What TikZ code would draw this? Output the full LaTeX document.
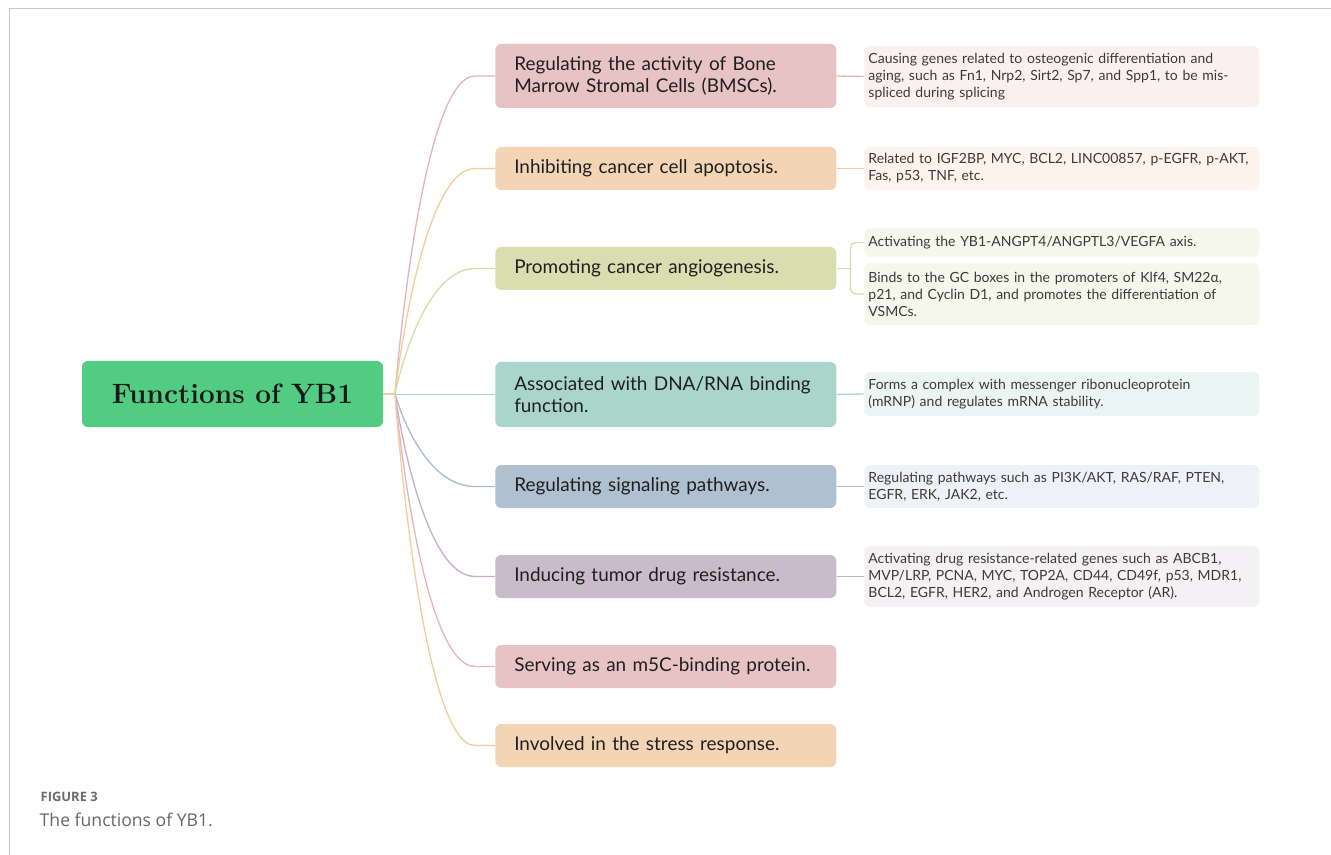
\documentclass[tikz,border=0pt]{standalone}
\usepackage{fontspec}
\newfontfamily\boxfont{Lato}
\newfontfamily\capfont{Open Sans}
\usetikzlibrary{calc,positioning,backgrounds}

\definecolor{rootgreen}{HTML}{52CC82}
\definecolor{frameGray}{HTML}{C8C8C8}
\definecolor{fillA}{HTML}{E8C3C3}
\definecolor{fillB}{HTML}{F3D5B5}
\definecolor{fillC}{HTML}{DADDB0}
\definecolor{fillD}{HTML}{A9D5CA}
\definecolor{fillE}{HTML}{AFC0D1}
\definecolor{fillF}{HTML}{C9BBCB}
\definecolor{lineA}{HTML}{E5B5B5}
\definecolor{lineB}{HTML}{F5CB9E}
\definecolor{lineC}{HTML}{D5DDA5}
\definecolor{lineD}{HTML}{A9D8CE}
\definecolor{lineE}{HTML}{A9BDD2}
\definecolor{lineF}{HTML}{C4B0C9}
\definecolor{detA}{HTML}{FBF0EF}
\definecolor{detB}{HTML}{FDF3EC}
\definecolor{detC}{HTML}{F6F7EC}
\definecolor{detD}{HTML}{EAF4F2}
\definecolor{detE}{HTML}{EEF1F6}
\definecolor{detF}{HTML}{F3F1F4}
\definecolor{detText}{HTML}{3E3A38}

\tikzset{
  rootbox/.style={rounded corners=4.5pt, fill=rootgreen, minimum width=225.75pt,
    minimum height=49.5pt, font=\fontsize{21}{25}\selectfont\bfseries, text=black!90},
  branch/.style={rounded corners=4.5pt, anchor=west, minimum width=255.75pt,
    minimum height=32.25pt, text width=227.25pt, inner xsep=14.25pt, align=left,
    font=\boxfont\fontsize{14.2}{16.5}\selectfont, text=black!88},
  detail/.style={rounded corners=4.5pt, anchor=west, minimum width=296.25pt,
    text width=290pt, inner xsep=3.1pt, align=left, text=detText,
    font=\boxfont\fontsize{10.5}{12.75}\selectfont},
  link/.style={line width=1pt}
}

\begin{document}
\begin{tikzpicture}[x=0.75pt,y=-0.75pt]
\useasboundingbox (0,0) rectangle (1331,855);
% frame
\draw[frameGray, line width=0.75pt] (1331,9) -- (9,9) -- (9,855);

\node[rootbox] (root) at (232.5,394) {Functions of YB1};
\coordinate (hub) at (395,394);

% first level
\node[branch, fill=fillA, minimum height=48pt] (b1) at (495,76) {Regulating the activity of Bone\\Marrow Stromal Cells (BMSCs).};
\node[branch, fill=fillB] (b2) at (495,168.5) {Inhibiting cancer cell apoptosis.};
\node[branch, fill=fillC] (b3) at (495,268.5) {Promoting cancer angiogenesis.};
\node[branch, fill=fillD, minimum height=48.75pt] (b4) at (495,394.5) {Associated with DNA/RNA binding\\function.};
\node[branch, fill=fillE] (b5) at (495,486.5) {Regulating signaling pathways.};
\node[branch, fill=fillF] (b6) at (495,576.5) {Inducing tumor drug resistance.};
\node[branch, fill=fillA] (b7) at (495,666.5) {Serving as an m5C-binding protein.};
\node[branch, fill=fillB] (b8) at (495,745.5) {Involved in the stress response.};

% second level
\node[detail, fill=detA, minimum height=45.75pt] (d1) at (864,76.5) {Causing genes related to osteogenic differentiation and\\aging, such as Fn1, Nrp2, Sirt2, Sp7, and Spp1, to be mis-\\spliced during splicing};
\node[detail, fill=detB, minimum height=32.25pt] (d2) at (864,168.5) {Related to IGF2BP, MYC, BCL2, LINC00857, p-EGFR, p-AKT,\\Fas, p53, TNF, etc.};
\node[detail, fill=detC, minimum height=21.75pt] (d3a) at (864,242.5) {Activating the YB1-ANGPT4/ANGPTL3/VEGFA axis.};
\node[detail, fill=detC, minimum height=46.5pt] (d3b) at (864,294) {Binds to the GC boxes in the promoters of Klf4, SM22α,\\p21, and Cyclin D1, and promotes the differentiation of\\VSMCs.};
\node[detail, fill=detD, minimum height=33pt] (d4) at (864,394) {Forms a complex with messenger ribonucleoprotein\\(mRNP) and regulates mRNA stability.};
\node[detail, fill=detE, minimum height=32.25pt] (d5) at (864,486.5) {Regulating pathways such as PI3K/AKT, RAS/RAF, PTEN,\\EGFR, ERK, JAK2, etc.};
\node[detail, fill=detF, minimum height=45.75pt] (d6) at (864,576.5) {Activating drug resistance-related genes such as ABCB1,\\MVP/LRP, PCNA, MYC, TOP2A, CD44, CD49f, p53, MDR1,\\BCL2, EGFR, HER2, and Androgen Receptor (AR).};

% connectors
\draw[link, lineB] (root.east) -- (hub);
\foreach \b/\c in {b1/lineA, b2/lineB, b3/lineC, b5/lineE, b6/lineF, b7/lineA, b8/lineB}
  \draw[link, \c] (hub) .. controls (hub) and ($(hub |- \b.west)+(25,0)$) .. ($(\b.west)+(-20,0)$) -- (\b.west);
\draw[link, lineD] (hub) -- (hub |- b4.west) -- (b4.west);

\draw[link, lineA] (b1.east) -- (d1.west);
\draw[link, lineB] (b2.east) -- (d2.west);
\coordinate (fork3) at ($(b3.east)+(14,0)$);
\draw[link, lineC] (b3.east) -- (fork3);
\draw[link, lineC, rounded corners=4pt] (d3a.west) -| (fork3) |- (d3b.west);
\draw[link, lineD] (b4.east) -- (d4.west);
\draw[link, lineE] (b5.east) -- (d5.west);
\draw[link, lineF] (b6.east) -- (d6.west);

% caption
\node[anchor=west, text=black!58, font=\capfont\fontsize{9.7}{11}\selectfont\bfseries] (figno) at (36,797) {FIGURE 3};
\node[anchor=west, text=black!60, font=\capfont\fontsize{13.2}{15}\selectfont] (figcap) at (35,820) {The functions of YB1.};
\end{tikzpicture}
\end{document}
